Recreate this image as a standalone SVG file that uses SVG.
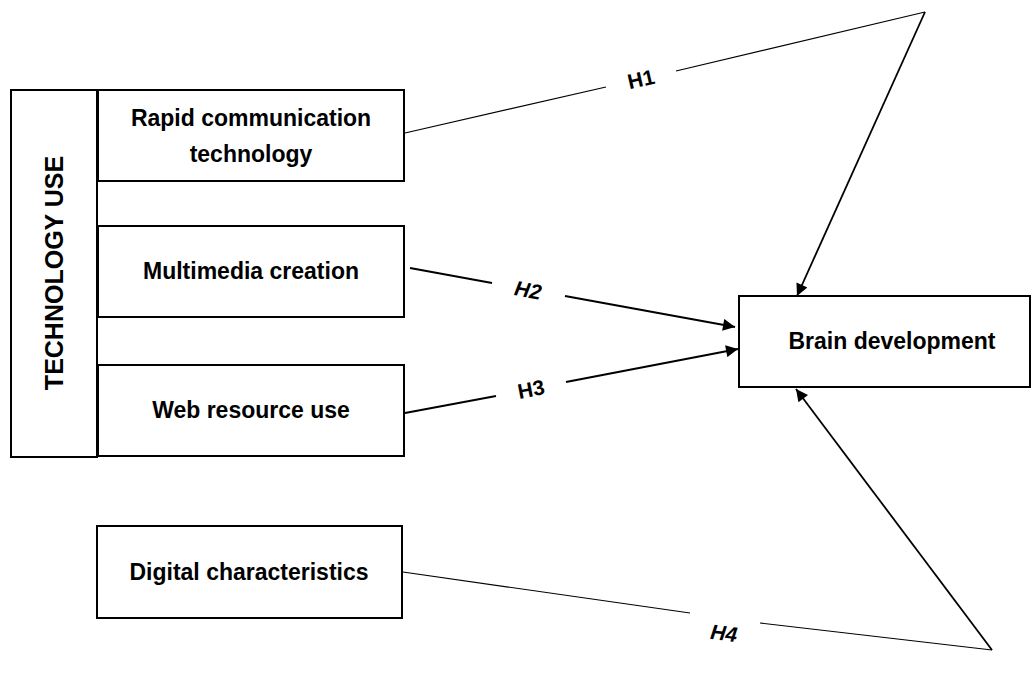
<svg xmlns="http://www.w3.org/2000/svg" width="1032" height="679" viewBox="0 0 1032 679">
<style>
.box{fill:#fff;stroke:#000;stroke-width:2}
.t{font-family:"Liberation Sans",Arial,sans-serif;font-weight:bold;font-size:23px;fill:#000;text-anchor:middle;dominant-baseline:central}
.lbl{font-family:"Liberation Sans",Arial,sans-serif;font-weight:bold;font-size:21px;fill:#000;text-anchor:middle;dominant-baseline:central}
.thin{stroke:#000;stroke-width:1.2;fill:none}
.thick{stroke:#000;stroke-width:2.2;fill:none}
.mid{stroke:#000;stroke-width:1.8;fill:none}
</style>
<defs>
<marker id="ah" viewBox="0 0 10 10" refX="10" refY="5" markerWidth="16" markerHeight="12" markerUnits="userSpaceOnUse" orient="auto">
<path d="M0,0 L10,5 L0,10 z" fill="#000"/>
</marker>
</defs>
<rect width="1032" height="679" fill="#fff"/>
<g id="technology-use">
<rect class="box" x="11" y="90" width="86" height="367"/>
<text class="t" style="font-size:25px" transform="translate(54,273) rotate(-90)">TECHNOLOGY USE</text>
</g>
<g id="rapid">
<rect class="box" x="98" y="90" width="306" height="91"/>
<text class="t" x="251" y="118">Rapid communication</text>
<text class="t" x="251" y="154">technology</text>
</g>
<g id="multimedia">
<rect class="box" x="98" y="226" width="306" height="91"/>
<text class="t" x="251" y="271">Multimedia creation</text>
</g>
<g id="web">
<rect class="box" x="98" y="365" width="306" height="91"/>
<text class="t" x="251" y="410">Web resource use</text>
</g>
<g id="digital">
<rect class="box" x="97" y="526" width="305" height="92"/>
<text class="t" x="249" y="572">Digital characteristics</text>
</g>
<g id="brain">
<rect class="box" x="739" y="296" width="291" height="91"/>
<text class="t" x="892" y="341">Brain development</text>
</g>
<g id="connectors">
<line class="thin" x1="405" y1="133" x2="606" y2="87"/>
<line class="thin" x1="676" y1="71" x2="925" y2="12"/>
<line class="mid" x1="925" y1="12" x2="797" y2="296" marker-end="url(#ah)"/>
<line class="thick" x1="410" y1="268" x2="492" y2="283"/>
<line class="thick" x1="565" y1="296" x2="735" y2="327" marker-end="url(#ah)"/>
<line class="thick" x1="405" y1="413" x2="496" y2="396"/>
<line class="thick" x1="566" y1="382" x2="738" y2="349" marker-end="url(#ah)"/>
<line class="thin" x1="403" y1="572" x2="690" y2="613"/>
<line class="thin" x1="760" y1="623" x2="992" y2="650"/>
<line class="mid" x1="992" y1="650" x2="796" y2="389" marker-end="url(#ah)"/>
</g>
<g id="labels">
<text class="lbl" transform="translate(641,79) rotate(-13)">H1</text>
<text class="lbl" font-style="italic" transform="translate(528,290) rotate(10)">H2</text>
<text class="lbl" transform="translate(531,389) rotate(-11)">H3</text>
<text class="lbl" font-style="italic" transform="translate(724,633) rotate(7)">H4</text>
</g>
</svg>
